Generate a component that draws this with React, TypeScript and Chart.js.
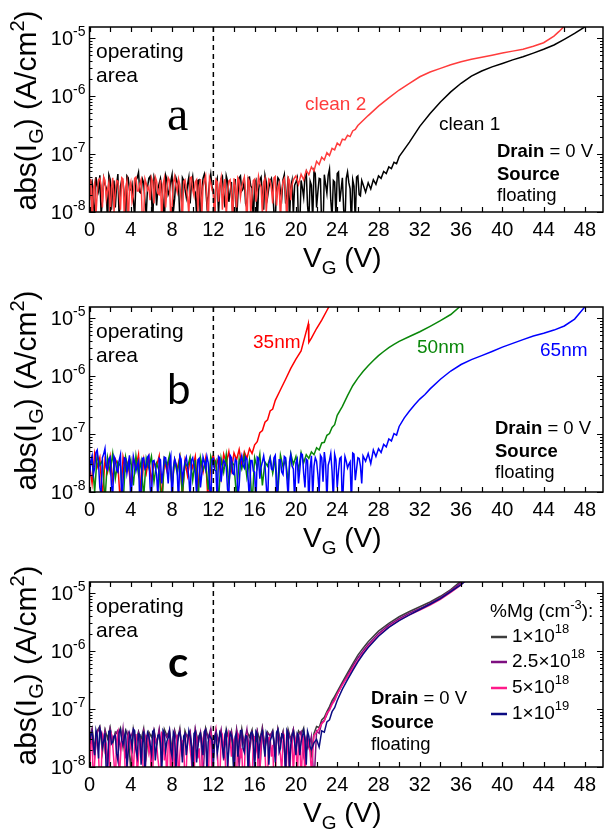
import React, { useEffect, useRef } from "react";
import { Chart, registerables } from "chart.js";
Chart.register(...registerables);

const SANS = '"Liberation Sans", Arial, sans-serif';
Chart.defaults.font.family = SANS;

// ---------- axes ----------
const X_MIN = 0;
const X_MAX = 49.75;
const Y_MIN = 1e-8;
const Y_MAX = 1.55e-5;
const X_TICKS = [0, 4, 8, 12, 16, 20, 24, 28, 32, 36, 40, 44, 48];
const Y_TICKS = [1e-8, 1e-7, 1e-6, 1e-5];
const Y_TICK_EXPONENTS = ["-8", "-7", "-6", "-5"];
const OPERATING_LIMIT_V = 12;
const I_UNIT = 1e-8; // all current values below are in units of 1e-8 A/cm^2

// gate-voltage sweep (V)
const VG_SWEEP = [
  0, 0.25, 0.5, 0.75, 1, 1.25, 1.5, 1.75, 2, 2.25, 2.5, 2.75, 3, 3.25, 3.5, 3.75, 4, 4.25, 4.5, 4.75,
  5, 5.25, 5.5, 5.75, 6, 6.25, 6.5, 6.75, 7, 7.25, 7.5, 7.75, 8, 8.25, 8.5, 8.75, 9, 9.25, 9.5, 9.75,
  10, 10.25, 10.5, 10.75, 11, 11.25, 11.5, 11.75, 12, 12.25, 12.5, 12.75, 13, 13.25, 13.5, 13.75, 14, 14.25, 14.5, 14.75,
  15, 15.25, 15.5, 15.75, 16, 16.25, 16.5, 16.75, 17, 17.25, 17.5, 17.75, 18, 18.25, 18.5, 18.75, 19, 19.25, 19.5, 19.75,
  20, 20.25, 20.5, 20.75, 21, 21.25, 21.5, 21.75, 22, 22.25, 22.5, 22.75, 23, 23.25, 23.5, 23.75, 24, 24.25, 24.5, 24.75,
  25, 25.25, 25.5, 25.75, 26, 26.25, 26.5, 26.75, 27, 27.25, 27.5, 27.75, 28, 28.25, 28.5, 28.75, 29, 29.25, 29.5, 29.75,
  30,
];
// intermediate sweep points (V), between the points above
const VG_SWEEP_MID = [
  0.125, 0.375, 0.625, 0.875, 1.125, 1.375, 1.625, 1.875,
  2.125, 2.375, 2.625, 2.875, 3.125, 3.375, 3.625, 3.875,
  4.125, 4.375, 4.625, 4.875, 5.125, 5.375, 5.625, 5.875,
  6.125, 6.375, 6.625, 6.875, 7.125, 7.375, 7.625, 7.875,
  8.125, 8.375, 8.625, 8.875, 9.125, 9.375, 9.625, 9.875,
  10.125, 10.375, 10.625, 10.875, 11.125, 11.375, 11.625, 11.875,
  12.125, 12.375, 12.625, 12.875, 13.125, 13.375, 13.625, 13.875,
  14.125, 14.375, 14.625, 14.875, 15.125, 15.375, 15.625, 15.875,
  16.125, 16.375, 16.625, 16.875, 17.125, 17.375, 17.625, 17.875,
  18.125, 18.375, 18.625, 18.875, 19.125, 19.375, 19.625, 19.875,
  20.125, 20.375, 20.625, 20.875, 21.125, 21.375, 21.625, 21.875,
  22.125, 22.375, 22.625, 22.875, 23.125, 23.375, 23.625, 23.875,
  24.125, 24.375, 24.625, 24.875, 25.125, 25.375, 25.625, 25.875,
  26.125, 26.375,
];

// ---------- panel a ----------
const CLEAN2_SWEEP = [
  1.6, 0.6, 3.2, 2.1, 3.8, 1.2, 3.5, 2.4, 0.7, 3.9,
  2.2, 3.4, 1.1, 3.7, 2.6, 0.5, 3.3, 1.9, 4.0, 2.3,
  3.6, 0.8, 3.1, 2.7, 3.9, 1.4, 3.4, 2.0, 0.6, 3.8,
  2.5, 3.5, 1.3, 4.1, 2.2, 3.0, 0.7, 3.6, 1.8, 3.9,
  2.4, 3.3, 1.0, 3.7, 2.8, 4.2, 0.6, 3.2, 2.1, 3.6,
  1.5, 3.9, 2.6, 0.8, 3.4, 2.0, 3.8, 1.2, 3.5, 2.7,
  4.0, 0.5, 3.3, 1.9, 3.7, 2.4, 3.1, 0.9, 3.8, 2.2,
  3.5, 1.4, 4.1, 2.6, 0.7, 3.4, 2.0, 3.9, 1.6, 3.6,
  4.2,
  3.0, 4.5, 3.6, 5.2, 4.4, 6.0, 5.1, 7.5, 6.6, 8.8, 7.9, 10.5, 9.4, 12.5, 11.8, 15.5, 14.0, 18.0, 17.5, 21.0,
  20.0, 25.0, 26.5, 31.0,
];
const CLEAN2_MID = [
  3.7, 2.5, 0.9, 3.6, 2.9, 4.0, 1.7, 3.2, 2.6, 1.0,
  3.5, 2.0, 3.9, 0.8, 3.4, 2.7, 1.5, 3.8, 2.3, 3.1,
  0.6, 3.7, 2.4, 1.6, 3.3, 4.0, 2.1, 3.6, 3.0, 1.2,
  3.9, 0.7, 3.2, 2.8, 3.7, 1.6, 3.4, 2.5, 0.9, 4.0,
  1.9, 3.6, 2.7, 0.8, 3.5, 1.7, 3.9, 2.4, 0.6, 3.3,
  2.9, 1.1, 3.7, 2.2, 3.6, 0.7, 2.8, 3.9, 1.8, 3.4,
  2.1, 3.8, 0.9, 3.5, 1.5, 4.1, 2.7, 3.3, 1.0, 3.7,
  2.5, 3.9, 1.3, 3.1, 2.4, 3.8, 0.6, 3.5, 2.9, 3.9,
];
const CLEAN2_TAIL_V = [27, 28, 29, 30, 31, 32, 33, 34, 35, 36, 37, 38, 39, 40, 41, 42, 43, 44, 45, 45.5, 46];
const CLEAN2_TAIL_I = [46, 67, 93, 127, 165, 215, 260, 300, 345, 390, 430, 465, 505, 550, 595, 640, 720, 830, 1080, 1300, 1600];

const CLEAN1_SWEEP = [
  2.0, 3.4, 0.8, 2.9, 4.3, 1.5, 3.0, 0.6, 3.7, 2.5,
  1.2, 4.5, 2.8, 3.3, 0.7, 3.9, 2.4, 1.6, 3.5, 4.8,
  2.1, 3.2, 0.9, 3.8, 2.0, 4.0, 1.3, 3.1, 2.6, 0.5,
  3.6, 2.3, 4.4, 1.7, 3.3, 0.8, 3.9, 2.5, 3.0, 1.4,
  4.1, 2.2, 3.5, 0.6, 3.8, 2.9, 1.8, 4.5, 2.4, 3.2,
  0.9, 3.7, 2.0, 4.2, 1.5, 3.3, 2.7, 0.7, 3.9, 2.3,
  3.5, 1.2, 4.0, 2.6, 3.1, 0.6, 3.6, 2.0, 4.3, 1.8,
  3.4, 2.5, 0.8, 3.9, 2.2, 3.6, 1.4, 4.1, 2.7, 0.9,
  3.3,
  0.6, 3.5, 1.8, 4.8, 0.7, 2.9, 5.2, 1.2, 3.8, 0.5, 4.4, 2.1, 5.5, 0.8, 3.3, 4.6, 1.5, 3.9, 0.6, 4.9,
  2.5, 3.6, 0.7, 4.2, 1.9, 3.0,
  2.2, 3.2, 2.5, 3.6, 3.0, 4.2, 3.8, 5.0, 4.6, 6.0, 5.6, 7.2, 6.8, 9.0,
];
const CLEAN1_MID = [
  3.1, 1.4, 4.0, 2.3, 0.9, 3.8, 2.6, 4.4, 1.1, 3.5,
  2.9, 0.7, 3.6, 1.9, 4.2, 2.4, 3.0, 0.8, 3.9, 2.2,
  3.7, 1.5, 2.7, 4.1, 0.6, 3.3, 2.5, 3.8, 1.6, 4.3,
  2.0, 3.4, 1.0, 3.9, 2.8, 0.6, 3.5, 1.8, 4.0, 3.1,
  2.4, 0.9, 3.6, 2.1, 4.5, 1.3, 3.2, 2.7, 0.7, 3.8,
  2.6, 4.1, 1.2, 3.4, 2.2, 0.8, 3.7, 1.9, 4.2, 2.5,
  1.4, 3.9, 2.8, 0.6, 3.5, 2.3, 4.0, 1.1, 3.3, 2.6,
  3.8, 0.9, 2.4, 3.6, 1.7, 4.4, 2.0, 0.7, 3.5, 2.9,
  3.9, 0.6, 2.6, 4.1, 1.3, 3.4, 0.7, 4.6, 2.2, 3.7,
  0.5, 3.0, 4.3, 1.6, 3.5, 0.8, 4.9, 2.4, 1.1, 3.8,
  3.2, 0.6, 2.8, 4.0, 2.0, 3.5,
];
const CLEAN1_TAIL_V = [30.5, 31, 32, 33, 34, 35, 36, 37, 38, 39, 40, 41, 42, 43, 44, 45, 46, 47, 48];
const CLEAN1_TAIL_I = [12, 16, 30, 50, 79, 118, 166, 220, 270, 318, 365, 420, 475, 550, 640, 760, 950, 1200, 1560];

// ---------- panel b ----------
const NM35_SWEEP = [
  3.0, 1.4, 4.6, 2.7, 3.9, 0.8, 3.5, 2.2, 4.1, 1.6,
  3.7, 2.9, 0.6, 4.0, 2.4, 3.3, 1.2, 3.8, 2.6, 4.4,
  0.9, 3.6, 2.1, 3.9, 1.5, 3.2, 2.8, 4.2, 0.7, 3.5,
  2.3, 3.9, 1.3, 3.6, 2.5, 4.0, 0.8, 3.4, 1.9, 3.7,
  2.6, 4.1, 1.1, 3.5, 2.2, 3.8, 0.6, 3.3, 4.3, 2.7,
  3.9, 1.8, 4.5, 3.1, 5.0, 2.4, 4.7, 3.6, 5.4, 2.9,
  4.9, 3.8, 5.6,
  4.6, 6.5, 7.4, 10.5, 11.5, 16, 17.5, 25, 27, 38,
];
const NM35_TAIL_V = [18.5, 19, 19.5, 20, 20.5, 21.2, 21.25, 21.5, 22, 22.5, 23, 23.3];
const NM35_TAIL_I = [58, 88, 135, 195, 270, 800, 380, 450, 660, 920, 1350, 1700];

const NM50_SWEEP = [
  2.4, 3.8, 1.0, 4.4, 2.9, 3.5, 0.7, 3.9, 2.2, 4.6,
  1.7, 3.3, 2.8, 0.6, 4.0, 2.5, 3.6, 1.3, 4.2, 2.0,
  3.4, 0.8, 3.8, 2.6, 4.1, 1.5, 3.1, 2.3, 0.5, 3.7,
  2.8, 4.3, 1.2, 3.5, 2.1, 3.9, 0.9, 3.2, 2.7, 4.0,
  1.6, 3.6, 0.6, 3.9, 2.4, 3.3, 1.1, 4.1, 2.8, 3.5,
  0.7, 3.8, 2.2, 4.4, 1.4, 3.4, 2.9, 0.8, 3.7, 2.5,
  4.2, 1.8, 3.5, 0.6, 3.9, 2.6, 4.5, 1.3, 3.3, 2.8,
  4.0, 2.1, 3.7, 1.0, 4.3, 2.7, 3.6, 1.5, 4.6, 3.0,
  4.1, 2.4, 4.8, 3.2, 4.4,
  3.8, 4.9, 4.4, 5.8, 5.3, 7.0, 7.2, 9.5, 10.2, 13.0, 14.5, 21,
];
const NM50_TAIL_V = [24.5, 25, 25.5, 26, 26.5, 27, 27.5, 28, 28.5, 29, 29.5, 30, 31, 32, 33, 34, 35, 35.9];
const NM50_TAIL_I = [30, 46, 68, 92, 120, 150, 185, 225, 265, 310, 350, 395, 480, 580, 720, 900, 1150, 1580];

const NM65_SWEEP = [
  1.8, 4.2, 2.6, 5.3, 1.2, 3.9, 5.6, 2.4, 4.0, 0.8,
  3.6, 2.2, 4.4, 1.5, 3.8, 2.9, 0.6, 4.1, 2.3, 3.4,
  1.1, 3.9, 2.7, 4.3, 0.7, 3.5, 2.0, 3.8, 1.4, 4.0,
  2.6, 3.3, 0.5, 3.7, 2.2, 4.2, 1.6, 3.4, 2.8, 0.8,
  3.9, 2.1, 3.6, 1.2, 4.0, 2.5, 3.2, 0.6, 3.8, 2.3,
  4.1, 1.5, 3.5, 2.7, 0.9, 3.9, 2.0, 3.4, 1.3, 4.2,
  2.6, 3.7, 0.7, 3.5, 2.2, 4.0, 1.7, 3.3, 2.9, 0.6,
  3.8, 2.4, 4.3, 1.1, 3.6, 2.0, 3.9, 0.8, 4.4, 2.5,
  3.2, 1.4, 4.6, 2.1, 3.7, 0.6, 4.2, 2.8, 3.4, 1.0,
  3.9, 4.9, 0.7, 3.5, 2.3, 4.5, 1.2, 3.8, 0.5, 4.1,
  2.6, 3.3, 4.7, 1.6, 3.9, 2.8, 4.2,
  3.4, 4.6, 3.1, 5.3, 4.1, 5.6, 4.8, 6.6, 6.0, 8.2, 7.6, 10.2, 9.6, 13.5,
];
const NM65_MID = [
  3.4, 2.0, 4.8, 3.1, 0.9, 4.5, 2.6, 3.7, 1.3, 4.1,
  2.4, 3.5, 0.7, 3.9, 2.1, 4.3, 1.6, 3.2, 2.9, 0.6,
  3.8, 2.5, 4.0, 1.2, 3.4, 2.7, 0.8, 3.6, 2.2, 3.9,
  1.4, 4.2, 2.6, 3.1, 0.6, 3.7, 2.3, 4.0, 1.8, 3.5,
  2.8, 0.9, 3.8, 2.0, 3.3, 4.1, 1.5, 3.6, 2.4, 0.7,
  3.9, 2.6, 3.2, 1.1, 4.3, 2.1, 3.7, 0.8, 3.4, 2.9,
  4.0, 1.6, 3.5, 2.3, 0.6, 3.8, 2.7, 4.2, 1.3, 3.1,
  2.5, 3.9, 0.9, 3.6, 2.2, 4.1, 1.7, 3.3, 2.8, 0.7,
  3.7, 2.4, 4.4, 1.2, 3.5, 2.6, 0.8, 3.9, 2.0, 4.3,
  1.5, 3.2, 2.9, 4.6, 0.7, 3.6, 2.3, 4.0, 1.8, 3.4,
  3.0, 0.6, 4.5, 2.5, 3.8, 1.4,
];
const NM65_TAIL_V = [30.5, 31, 31.5, 32, 32.5, 33, 34, 35, 36, 37, 38, 39, 40, 41, 42, 43, 44, 45, 46, 47, 48];
const NM65_TAIL_I = [19, 25, 32, 40, 48, 60, 88, 122, 158, 192, 225, 265, 315, 365, 425, 490, 545, 620, 730, 960, 1560];

// ---------- panel c ----------
const MG1E18_SWEEP = [
  3.2, 4.6, 2.1, 4.2, 5.0, 1.8, 4.4, 3.1, 4.8, 2.5,
  4.0, 3.6, 4.7, 2.2, 4.3, 3.4, 0.9, 4.5, 2.7, 4.1,
  3.0, 4.6, 1.6, 4.0, 3.3, 4.4, 2.4, 4.2, 1.2, 4.5,
  3.5, 4.1, 2.0, 4.3, 2.8, 4.6, 1.5, 4.2, 3.1, 3.9,
  1.0, 4.4, 2.9, 4.0, 2.2, 4.7, 3.2, 4.1, 1.4, 4.3,
  2.6, 4.0, 2.0, 4.5, 3.0, 4.2, 0.8, 4.4, 2.5, 4.6,
  2.3, 4.1, 3.3, 4.4, 1.3, 4.2, 2.9, 4.8, 2.1, 4.0,
  3.4, 4.3, 1.7, 4.6, 2.8, 4.1, 1.1, 4.4, 3.0, 4.5,
  2.4, 4.2, 3.6, 4.7, 1.9, 2.6, 1.6,
  3.8, 5.0, 4.8, 6.5, 7.2, 9.0, 11.0, 14.0, 16.5, 20,
];
const MG1E18_TAIL_V = [24.5, 25, 25.5, 26, 26.5, 27, 28, 29, 30, 31, 32, 33, 34, 35, 35.9];
const MG1E18_TAIL_I = [29, 42, 60, 85, 112, 145, 220, 300, 390, 480, 580, 700, 880, 1150, 1560];

const MG25E17_SWEEP = [
  2.9, 4.4, 1.5, 3.9, 4.8, 2.6, 4.1, 1.1, 4.5, 3.0,
  3.7, 4.3, 2.0, 4.6, 1.4, 4.0, 3.3, 4.4, 2.3, 3.8,
  1.7, 4.3, 2.9, 3.6, 1.0, 4.1, 2.5, 4.5, 1.8, 3.9,
  3.2, 4.4, 0.9, 4.0, 2.7, 4.3, 2.1, 3.8, 3.4, 4.2,
  1.6, 4.5, 2.4, 3.9, 0.7, 4.2, 3.1, 4.6, 1.9, 4.0,
  2.8, 4.4, 1.3, 3.7, 3.3, 4.1, 2.2, 4.3, 1.0, 3.9,
  2.6, 4.5, 1.8, 4.0, 3.0, 4.2, 0.8, 4.4, 2.3, 3.8,
  3.5, 4.1, 1.5, 4.3, 2.6, 3.9, 1.2, 4.0, 2.9, 4.4,
  2.0, 3.6, 4.1, 1.6, 3.2, 2.2, 3.4,
  0.5, 4.2, 3.8, 5.8, 6.4, 8.0, 10.0, 12.5, 15.0, 18,
];
const MG25E17_TAIL_V = [24.5, 25, 25.5, 26, 26.5, 27, 28, 29, 30, 31, 32, 33, 34, 35, 36.1];
const MG25E17_TAIL_I = [27, 38, 55, 76, 100, 130, 200, 280, 360, 450, 540, 660, 830, 1100, 1560];

const MG5E18_SWEEP = [
  0.6, 3.3, 1.2, 2.8, 0.5, 3.6, 1.9, 0.7, 3.1, 2.4,
  0.5, 3.8, 1.4, 2.6, 0.6, 3.4, 2.1, 0.8, 3.7, 1.5,
  2.9, 0.5, 3.5, 1.8, 0.6, 3.2, 2.5, 0.9, 3.9, 1.3,
  0.5, 3.0, 2.2, 0.7, 3.6, 1.6, 2.8, 0.5, 3.3, 2.0,
  0.6, 3.7, 1.4, 0.8, 3.1, 2.6, 0.5, 3.5, 1.7, 4.4,
  0.7, 3.0, 2.3, 0.5, 3.8, 1.5, 2.9, 0.6, 3.4, 2.1,
  0.8, 3.6, 1.2, 0.5, 3.2, 2.7, 0.7, 3.9, 1.8, 0.6,
  3.3, 2.4, 0.5, 3.7, 1.6, 2.8, 0.6, 3.5, 2.0, 0.7,
  3.1, 2.5, 0.5, 3.4, 1.9, 2.6, 0.8,
  3.5, 4.0, 4.6, 5.6, 6.2, 8.5, 9.5, 12.0, 14.0, 18,
];
const MG5E18_MID = [
  2.7, 0.5, 3.4, 1.6, 0.7, 3.0, 2.3, 0.5, 3.6, 1.2,
  2.9, 0.6, 3.3, 2.0, 0.5, 3.8, 1.5, 2.6, 0.7, 3.2,
  1.9, 0.5, 3.5, 2.4, 0.8, 3.1, 1.4, 0.5, 3.7, 2.2,
  2.8, 0.6, 3.4, 1.7, 0.5, 3.0, 2.5, 0.9, 3.6, 1.3,
  0.5, 3.2, 2.1, 0.7, 3.9, 1.6, 2.7, 0.5, 3.3, 2.0,
  0.6, 3.5, 1.8, 0.5, 3.1, 2.6, 0.8, 3.8, 1.4, 0.5,
  3.4, 2.3, 0.7, 3.0, 1.9, 0.5, 3.6, 2.5, 0.6, 3.2,
  1.5, 0.5, 3.7, 2.2, 0.8, 3.3, 1.7, 0.5, 3.5, 2.4,
  0.6, 3.1, 2.0, 0.5, 3.4, 1.8,
];
const MG5E18_TAIL_V = [24.5, 25, 25.5, 26, 26.5, 27, 28, 29, 30, 31, 32, 33, 34, 35, 36, 36.3];
const MG5E18_TAIL_I = [26, 36, 50, 68, 92, 120, 185, 260, 340, 420, 510, 620, 780, 1030, 1380, 1600];

const MG1E19_SWEEP = [
  2.5, 4.0, 1.6, 3.4, 4.6, 2.2, 3.8, 0.9, 4.2, 2.7,
  3.5, 1.3, 4.4, 2.4, 3.9, 1.8, 3.2, 4.5, 2.0, 3.7,
  1.1, 4.1, 2.6, 3.4, 1.7, 4.3, 2.3, 3.6, 0.8, 3.9,
  2.8, 4.2, 1.5, 3.5, 2.1, 4.0, 1.2, 3.7, 2.5, 3.3,
  0.7, 4.1, 2.2, 3.8, 1.6, 4.4, 2.7, 3.2, 1.0, 3.9,
  2.4, 3.6, 1.4, 4.2, 2.0, 3.5, 0.6, 3.8, 2.6, 4.3,
  1.8, 3.4, 2.3, 4.0, 0.9, 3.7, 2.5, 4.1, 1.5, 3.3,
  2.8, 3.9, 1.2, 4.4, 2.1, 3.6, 0.7, 3.8, 2.4, 4.0,
  1.6, 3.5, 2.7, 4.2, 1.1, 3.4, 2.0,
  2.6, 3.0, 2.2, 4.2, 4.0, 6.0, 6.5, 9.0, 10.5, 14,
];
const MG1E19_MID = [
  3.6, 2.3, 4.3, 1.4, 3.9, 2.8, 0.8, 4.1, 2.5, 3.4,
  1.7, 4.0, 2.9, 3.3, 1.0, 3.8, 2.2, 4.2, 1.5, 3.6,
  2.7, 0.7, 3.9, 2.4, 4.1, 1.3, 3.5, 2.6, 4.3, 1.9,
  3.2, 2.0, 4.0, 0.9, 3.7, 2.7, 3.4, 1.6, 4.2, 2.3,
  3.8, 1.2, 3.5, 2.5, 4.1, 0.8, 3.6, 2.9, 3.3, 1.7,
  4.0, 2.2, 3.7, 1.0, 3.9, 2.6, 3.4, 1.5, 4.2, 2.1,
  3.5, 0.7, 3.8, 2.8, 4.1, 1.4, 3.6, 2.4, 3.9, 1.1,
  3.3, 2.7, 4.0, 1.8, 3.7, 2.3, 4.3, 0.9, 3.5, 2.6,
  3.8, 1.6, 3.4, 2.9, 4.1, 2.2,
];
const MG1E19_TAIL_V = [24.5, 25, 25.5, 26, 26.5, 27, 28, 29, 30, 31, 32, 33, 34, 35, 36, 36.4];
const MG1E19_TAIL_I = [22, 32, 46, 65, 88, 115, 180, 255, 335, 420, 520, 640, 800, 1060, 1400, 1600];

const MG_LEGEND_MANTISSA = ["1", "2.5", "5", "1"];
const MG_LEGEND_EXPONENT = ["18", "18", "18", "19"];
const MG_COLORS = ["#3d3d3d", "#7e0f80", "#ff1a8a", "#0b0b82"];

// ---------- helpers ----------
type Pt = { x: number; y: number };
function buildSeries(sweep: number[], mid: number[], tailV: number[], tailI: number[]): Pt[] {
  const pts: Pt[] = [];
  sweep.forEach((v, i) => {
    pts.push({ x: VG_SWEEP[i], y: v * I_UNIT });
    if (i < mid.length) pts.push({ x: VG_SWEEP_MID[i], y: mid[i] * I_UNIT });
  });
  tailV.forEach((v, i) => pts.push({ x: v, y: tailI[i] * I_UNIT }));
  return pts;
}

function lineDs(label: string, data: Pt[], color: string, order: number) {
  return {
    label,
    data,
    borderColor: color,
    backgroundColor: color,
    borderWidth: 1.5,
    pointRadius: 0,
    tension: 0,
    fill: false,
    order,
  };
}

function dashedDs() {
  return {
    label: "operating limit",
    data: [
      { x: OPERATING_LIMIT_V, y: Y_MIN },
      { x: OPERATING_LIMIT_V, y: Y_MAX },
    ],
    borderColor: "#000",
    borderWidth: 1.5,
    borderDash: [5, 4],
    pointRadius: 0,
    fill: false,
    order: -1,
  };
}

type Run = { t: string; size: number; weight?: string; family?: string; dy?: number };
function fontOf(r: Run) {
  return `${r.weight || "normal"} ${r.size}px ${r.family || SANS}`;
}
function drawRuns(
  ctx: CanvasRenderingContext2D,
  runs: Run[],
  x: number,
  y: number,
  color: string,
  align: "left" | "center" | "right" = "left"
) {
  let w = 0;
  runs.forEach((r) => {
    ctx.font = fontOf(r);
    w += ctx.measureText(r.t).width;
  });
  let cx = align === "center" ? x - w / 2 : align === "right" ? x - w : x;
  ctx.fillStyle = color;
  ctx.textAlign = "left";
  ctx.textBaseline = "alphabetic";
  runs.forEach((r) => {
    ctx.font = fontOf(r);
    ctx.fillText(r.t, cx, y + (r.dy || 0));
    cx += ctx.measureText(r.t).width;
  });
}

type TextItem = { runs: Run[]; x: number; dy: number; color?: string };
type LegendSpec = { titleX: number; titleDy: number; lineX: number; textX: number; rowDy: number[] };

function decorPlugin(key: string, texts: TextItem[], legend?: LegendSpec) {
  return {
    id: "decor_" + key,
    afterDatasetsDraw(chart: any) {
      const { ctx, chartArea: a, scales } = chart;
      const xs = scales.x;
      const ys = scales.y;
      ctx.save();
      ctx.strokeStyle = "#000";
      ctx.lineWidth = 1.2;
      ctx.beginPath();
      for (let v = 0; v <= X_MAX; v += 2) {
        const px = Math.round(xs.getPixelForValue(v)) + 0.5;
        ctx.moveTo(px, a.bottom);
        ctx.lineTo(px, a.bottom - 5);
        ctx.moveTo(px, a.top);
        ctx.lineTo(px, a.top + 5);
      }
      for (let e = -8; e <= -5; e++) {
        for (let m = 1; m <= 9; m++) {
          const val = m * Math.pow(10, e);
          if (val > Y_MAX * 1.001) continue;
          const py = Math.round(ys.getPixelForValue(val)) + 0.5;
          const len = m === 1 ? 6 : 3;
          ctx.moveTo(a.left, py);
          ctx.lineTo(a.left + len, py);
          ctx.moveTo(a.right, py);
          ctx.lineTo(a.right - len, py);
        }
      }
      ctx.stroke();
      ctx.lineWidth = 1.5;
      ctx.strokeRect(a.left, a.top, a.right - a.left, a.bottom - a.top);

      // y tick labels with true superscripts, at the scale's own tick positions
      ys.ticks.forEach((t: any, i: number) => {
        const py = ys.getPixelForValue(t.value);
        drawRuns(
          ctx,
          [
            { t: "10", size: 20 },
            { t: Y_TICK_EXPONENTS[i], size: 14, dy: -9 },
          ],
          a.left - 4,
          py + 7,
          "#000",
          "right"
        );
      });

      // axis titles
      drawRuns(
        ctx,
        [
          { t: "V", size: 28 },
          { t: "G", size: 19, dy: 7 },
          { t: " (V)", size: 28 },
        ],
        (a.left + a.right) / 2 - 4,
        a.bottom + 55,
        "#000",
        "center"
      );
      ctx.save();
      ctx.translate(a.left - 53.5, (a.top + a.bottom) / 2 - 9);
      ctx.rotate(-Math.PI / 2);
      drawRuns(
        ctx,
        [
          { t: "abs(I", size: 30 },
          { t: "G", size: 20, dy: 7 },
          { t: ") (A/cm", size: 30 },
          { t: "2", size: 20, dy: -12 },
          { t: ")", size: 30 },
        ],
        0,
        0,
        "#000",
        "center"
      );
      ctx.restore();

      texts.forEach((t) => drawRuns(ctx, t.runs, t.x, a.top + t.dy, t.color || "#000"));

      if (legend) {
        drawRuns(
          ctx,
          [
            { t: "%Mg (cm", size: 19 },
            { t: "-3", size: 13, dy: -8 },
            { t: "):", size: 19 },
          ],
          legend.titleX,
          a.top + legend.titleDy,
          "#000"
        );
        legend.rowDy.forEach((dy, i) => {
          const ly = a.top + dy;
          ctx.strokeStyle = MG_COLORS[i];
          ctx.lineWidth = 2.5;
          ctx.beginPath();
          ctx.moveTo(legend.lineX, ly);
          ctx.lineTo(legend.lineX + 16, ly);
          ctx.stroke();
          drawRuns(
            ctx,
            [
              { t: MG_LEGEND_MANTISSA[i] + "\u00D710", size: 19 },
              { t: MG_LEGEND_EXPONENT[i], size: 13, dy: -9 },
            ],
            legend.textX,
            ly + 5,
            "#000"
          );
        });
      }
      ctx.restore();
    },
  };
}

function baseOptions() {
  return {
    animation: false,
    responsive: false,
    devicePixelRatio: 1,
    layout: { padding: { top: 27, right: 3, left: 0, bottom: 0 } },
    plugins: { legend: { display: false }, tooltip: { enabled: false }, title: { display: false } },
    elements: { point: { radius: 0 }, line: { tension: 0 } },
    scales: {
      x: {
        type: "linear",
        min: X_MIN,
        max: X_MAX,
        grid: { display: false, drawTicks: false },
        border: { display: false },
        afterBuildTicks: (s: any) => {
          s.ticks = X_TICKS.map((v) => ({ value: v }));
        },
        afterFit: (s: any) => {
          s.height = 66;
        },
        ticks: {
          autoSkip: false,
          maxRotation: 0,
          padding: 6,
          color: "#000",
          font: { size: 20, family: SANS },
          callback: (v: any) => String(v),
        },
      },
      y: {
        type: "logarithmic",
        min: Y_MIN,
        max: Y_MAX,
        grid: { display: false, drawTicks: false },
        border: { display: false },
        afterBuildTicks: (s: any) => {
          s.ticks = Y_TICKS.map((v) => ({ value: v }));
        },
        afterFit: (s: any) => {
          s.width = 89.5;
        },
        ticks: {
          autoSkip: false,
          padding: 4,
          color: "rgba(0,0,0,0)", // drawn with real superscripts by the decor plugin
          font: { size: 20, family: SANS },
          callback: (_v: any, i: number) => "10^" + Y_TICK_EXPONENTS[i],
        },
      },
    },
  };
}

const OPERATING_TEXTS: TextItem[] = [
  { runs: [{ t: "operating", size: 21 }], x: 96, dy: 31 },
  { runs: [{ t: "area", size: 21 }], x: 96, dy: 55 },
];
function biasTexts(x: number, dy: number, gap: number): TextItem[] {
  return [
    { runs: [{ t: "Drain", size: 18.5, weight: "bold" }, { t: " = 0 V", size: 18.5 }], x, dy },
    { runs: [{ t: "Source", size: 18.5, weight: "bold" }], x, dy: dy + gap },
    { runs: [{ t: "floating", size: 18.5 }], x, dy: dy + gap * 2 - 2 },
  ];
}

function makeConfig(panel: "a" | "b" | "c") {
  const opts: any = baseOptions();
  let datasets: any[] = [];
  let plugin: any;
  if (panel === "a") {
    datasets = [
      dashedDs(),
      lineDs("clean 2", buildSeries(CLEAN2_SWEEP, CLEAN2_MID, CLEAN2_TAIL_V, CLEAN2_TAIL_I), "#ff3c3c", 0),
      lineDs("clean 1", buildSeries(CLEAN1_SWEEP, CLEAN1_MID, CLEAN1_TAIL_V, CLEAN1_TAIL_I), "#000000", 1),
    ];
    plugin = decorPlugin("a", [
      ...OPERATING_TEXTS,
      { runs: [{ t: "a", size: 48, family: '"Liberation Serif", serif' }], x: 167, dy: 103 },
      { runs: [{ t: "clean 2", size: 19 }], x: 305, dy: 83, color: "#ff3c3c" },
      { runs: [{ t: "clean 1", size: 19 }], x: 439, dy: 103 },
      ...biasTexts(497, 130, 23),
    ]);
  } else if (panel === "b") {
    datasets = [
      dashedDs(),
      lineDs("65nm", buildSeries(NM65_SWEEP, NM65_MID, NM65_TAIL_V, NM65_TAIL_I), "#0000ff", 0),
      lineDs("50nm", buildSeries(NM50_SWEEP, [], NM50_TAIL_V, NM50_TAIL_I), "#0a870a", 1),
      lineDs("35nm", buildSeries(NM35_SWEEP, [], NM35_TAIL_V, NM35_TAIL_I), "#ff0000", 2),
    ];
    plugin = decorPlugin("b", [
      ...OPERATING_TEXTS,
      { runs: [{ t: "b", size: 42, family: "Lato, sans-serif" }], x: 167, dy: 97 },
      { runs: [{ t: "35nm", size: 19 }], x: 253, dy: 41, color: "#ff0000" },
      { runs: [{ t: "50nm", size: 19 }], x: 417, dy: 46, color: "#0a870a" },
      { runs: [{ t: "65nm", size: 19 }], x: 540, dy: 49, color: "#0000ff" },
      ...biasTexts(495, 127, 23),
    ]);
  } else {
    datasets = [
      dashedDs(),
      lineDs("1×10^19", buildSeries(MG1E19_SWEEP, MG1E19_MID, MG1E19_TAIL_V, MG1E19_TAIL_I), MG_COLORS[3], 0),
      lineDs("5×10^18", buildSeries(MG5E18_SWEEP, MG5E18_MID, MG5E18_TAIL_V, MG5E18_TAIL_I), MG_COLORS[2], 1),
      lineDs("2.5×10^18", buildSeries(MG25E17_SWEEP, [], MG25E17_TAIL_V, MG25E17_TAIL_I), MG_COLORS[1], 2),
      lineDs("1×10^18", buildSeries(MG1E18_SWEEP, [], MG1E18_TAIL_V, MG1E18_TAIL_I), MG_COLORS[0], 3),
    ];
    plugin = decorPlugin(
      "c",
      [
        ...OPERATING_TEXTS,
        { runs: [{ t: "c", size: 42, weight: "bold", family: "Lato, sans-serif" }], x: 168, dy: 95 },
        ...biasTexts(371, 122, 24),
      ],
      { titleX: 490, titleDy: 35, lineX: 491, textX: 512, rowDy: [55, 80, 106, 132] }
    );
  }
  return { type: "line", data: { datasets }, options: opts, plugins: [plugin] };
}

function Panel({ panel, top }: { panel: "a" | "b" | "c"; top: number }) {
  const ref = useRef<HTMLCanvasElement>(null);
  useEffect(() => {
    if (!ref.current) return;
    const chart = new Chart(ref.current, makeConfig(panel) as any);
    return () => chart.destroy();
  }, [panel]);
  return (
    <canvas
      ref={ref}
      width={606}
      height={278}
      style={{ position: "absolute", left: 0, top, width: 606, height: 278, display: "block" }}
    />
  );
}

export default function App() {
  return (
    <div style={{ position: "absolute", left: 0, top: 0, width: 606, height: 834, background: "#fff" }}>
      <Panel panel="a" top={0} />
      <Panel panel="b" top={280} />
      <Panel panel="c" top={555} />
    </div>
  );
}
